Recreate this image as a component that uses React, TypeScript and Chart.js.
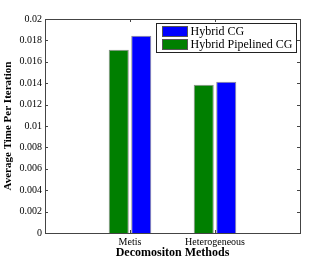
import React, { useEffect, useRef } from "react";
import { Chart, registerables } from "chart.js";

Chart.register(...registerables);

const categories = ["", "Metis", "Heterogeneous", ""];
const pipelinedValues = [null, 0.01713, 0.01386, null];
const hybridValues = [null, 0.01844, 0.01414, null];
const seriesNames = ["Hybrid Pipelined CG", "Hybrid CG"];
const yTicks = [0, 0.002, 0.004, 0.006, 0.008, 0.01, 0.012, 0.014, 0.016, 0.018, 0.02];

const FONT = "'Liberation Serif', 'DejaVu Serif', serif";

const frameAndLegend = {
  id: "frameAndLegend",
  afterDraw(chart: any) {
    const { ctx, chartArea } = chart;
    const { left, right, top, bottom } = chartArea;
    ctx.save();
    ctx.strokeStyle = "#444";
    ctx.lineWidth = 1;
    ctx.strokeRect(Math.round(left) + 0.5, Math.round(top) + 0.5, Math.round(right - left), Math.round(bottom - top));
    const tl = 3;
    const ys = chart.scales.y;
    ctx.beginPath();
    for (const t of yTicks) {
      const py = Math.round(ys.getPixelForValue(t)) + 0.5;
      ctx.moveTo(left, py);
      ctx.lineTo(left + tl, py);
      ctx.moveTo(right, py);
      ctx.lineTo(right - tl, py);
    }
    const xs = chart.scales.x;
    for (const i of [1, 2]) {
      const px = Math.round(xs.getPixelForValue(i)) + 0.5;
      ctx.moveTo(px, bottom);
      ctx.lineTo(px, bottom - tl);
      ctx.moveTo(px, top);
      ctx.lineTo(px, top + tl);
    }
    ctx.stroke();

    // legend
    ctx.font = `12px ${FONT}`;
    const items = [...chart.data.datasets].reverse();
    let maxW = 0;
    for (const d of items) maxW = Math.max(maxW, ctx.measureText(d.label).width);
    const boxW = Math.round(34 + maxW + 4);
    const boxH = 29;
    const bx = Math.round(right - 4 - boxW) + 0.5;
    const by = Math.round(top + 4) + 0.5;
    ctx.fillStyle = "#fff";
    ctx.fillRect(bx, by, boxW, boxH);
    ctx.strokeStyle = "#222";
    ctx.strokeRect(bx, by, boxW, boxH);
    items.forEach((d: any, i: number) => {
      const sy = by + 3 + i * 13;
      ctx.fillStyle = d.backgroundColor;
      ctx.fillRect(bx + 6, sy, 25, 10);
      ctx.strokeStyle = "#555";
      ctx.strokeRect(bx + 6, sy, 25, 10);
      ctx.fillStyle = "#000";
      ctx.textBaseline = "middle";
      ctx.textAlign = "left";
      ctx.fillText(d.label, bx + 34, sy + 5.5);
    });
    ctx.restore();
  },
};

export default function App() {
  const ref = useRef<HTMLCanvasElement>(null);
  useEffect(() => {
    const chart = new Chart(ref.current!, {
      type: "bar",
      data: {
        labels: categories,
        datasets: [
          {
            label: seriesNames[0],
            data: pipelinedValues as any,
            backgroundColor: "#007f00",
            borderColor: "#8a8a8a",
            borderWidth: 1,
          },
          {
            label: seriesNames[1],
            data: hybridValues as any,
            backgroundColor: "#0000ff",
            borderColor: "#8a8a8a",
            borderWidth: 1,
          },
        ],
      },
      options: {
        animation: false,
        responsive: false,
        maintainAspectRatio: false,
        layout: { padding: { left: 0, right: 32, top: 19, bottom: 0 } },
        plugins: { legend: { display: false }, tooltip: { enabled: false } },
        datasets: { bar: { categoryPercentage: 0.53, barPercentage: 0.89 } },
        scales: {
          x: {
            offset: false,
            grid: { display: false, drawTicks: false },
            border: { display: false },
            ticks: { color: "#000", font: { family: FONT, size: 10 }, padding: 3, autoSkip: false, maxRotation: 0 },
            title: {
              display: true,
              text: "Decomositon Methods",
              color: "#000",
              font: { family: FONT, size: 12, weight: "bold" },
              padding: { top: 0, bottom: 2 },
            },
            afterFit(s: any) {
              s.height = 29;
            },
          },
          y: {
            min: 0,
            max: 0.02,
            grid: { display: false, drawTicks: false },
            border: { display: false },
            afterBuildTicks(s: any) {
              s.ticks = yTicks.map((v) => ({ value: v }));
            },
            ticks: {
              color: "#000",
              font: { family: FONT, size: 10 },
              padding: 3,
              callback: (v: any) => String(Number(Number(v).toFixed(3))),
            },
            title: {
              display: true,
              text: "Average Time Per Iteration",
              color: "#000",
              font: { family: FONT, size: 11, weight: "bold" },
              padding: { top: 2, bottom: 0 },
            },
            afterFit(s: any) {
              s.width = 45;
            },
          },
        },
      },
      plugins: [frameAndLegend],
    });
    return () => chart.destroy();
  }, []);
  return (
    <div style={{ position: "fixed", left: 0, top: 0, width: 332, height: 262, background: "#fff" }}>
      <canvas ref={ref} width={332} height={262} style={{ width: 332, height: 262, display: "block" }} />
    </div>
  );
}
